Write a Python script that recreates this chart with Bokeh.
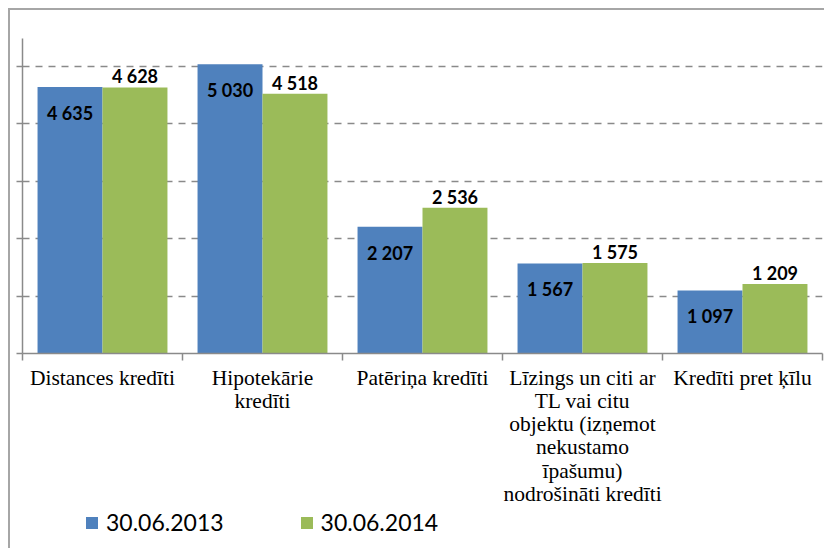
from bokeh.plotting import figure
from bokeh.layouts import column
from bokeh.models import ColumnDataSource, LabelSet, FixedTicker, Legend, LegendItem, Range1d
from bokeh.transform import dodge
from bokeh.embed import file_html
from bokeh.resources import INLINE
from bokeh.core.properties import value

# ---- data ----
categories = [
    "Distances kredīti",
    "Hipotekārie kredīti",
    "Patēriņa kredīti",
    "Līzings un citi ar TL vai citu objektu (izņemot nekustamo īpašumu) nodrošināti kredīti",
    "Kredīti pret ķīlu",
]
tick_labels = [
    "Distances kredīti",
    "Hipotekārie\nkredīti",
    "Patēriņa kredīti",
    "Līzings un citi ar\nTL vai citu\nobjektu (izņemot\nnekustamo\nīpašumu)\nnodrošināti kredīti",
    "Kredīti pret ķīlu",
]
series_names = ["30.06.2013", "30.06.2014"]
values_2013 = [4635, 5030, 2207, 1567, 1097]
values_2014 = [4628, 4518, 2536, 1575, 1209]

BLUE = "#4F81BD"
GREEN = "#9BBB59"
GRAY = "#8a8a8a"
SERIF = "'Liberation Serif'"


def fmt(v):
    return f"{v:,}".replace(",", " ")


centers = [i + 0.5 for i in range(len(categories))]
src = ColumnDataSource(dict(
    x=centers,
    cat=categories,
    v13=values_2013,
    v14=values_2014,
    t13=[fmt(v) for v in values_2013],
    t14=[fmt(v) for v in values_2014],
))

p = figure(
    width=814, height=498,
    x_range=Range1d(0, len(categories)),
    y_range=Range1d(0, 5480),
    output_backend="svg",
    toolbar_location=None,
    min_border_left=12, min_border_right=2, min_border_top=28, min_border_bottom=155,
)
p.outline_line_color = None
p.background_fill_color = "white"
p.border_fill_color = "white"

bw = 0.406
p.vbar(x=dodge("x", -bw / 2, range=p.x_range), top="v13", width=bw, source=src,
       fill_color=BLUE, line_color=None)
p.vbar(x=dodge("x", bw / 2, range=p.x_range), top="v14", width=bw, source=src,
       fill_color=GREEN, line_color=None)

lab_kw = dict(text_align="center", text_baseline="middle", text_font=value("Lato"),
              text_font_style="bold", text_font_size="18px", text_color="black")
p.add_layout(LabelSet(x=dodge("x", -bw / 2, range=p.x_range), y="v13", text="t13",
                      y_offset=-26, source=src, **lab_kw))
p.add_layout(LabelSet(x=dodge("x", bw / 2, range=p.x_range), y="v14", text="t14",
                      y_offset=11, source=src, **lab_kw))

# y axis: ticks only, no labels
p.yaxis.ticker = FixedTicker(ticks=[0, 1000, 2000, 3000, 4000, 5000])
p.yaxis.major_label_text_font_size = "0px"
p.yaxis.major_label_text_color = None
p.yaxis.major_label_standoff = 0
p.yaxis.major_tick_in = 0
p.yaxis.major_tick_out = 6
p.yaxis.minor_tick_line_color = None
p.yaxis.axis_line_color = GRAY
p.yaxis.axis_line_width = 1.5
p.yaxis.major_tick_line_color = GRAY
p.yaxis.major_tick_line_width = 1.5

# x axis: labels at centers, ticks at category boundaries
p.xaxis.ticker = FixedTicker(ticks=centers, minor_ticks=list(range(len(categories) + 1)))
p.xaxis.major_label_overrides = {c: t for c, t in zip(centers, tick_labels)}
p.xaxis.major_tick_line_color = None
p.xaxis.minor_tick_in = 0
p.xaxis.minor_tick_out = 7
p.xaxis.minor_tick_line_color = GRAY
p.xaxis.minor_tick_line_width = 1.5
p.xaxis.axis_line_color = GRAY
p.xaxis.axis_line_width = 1.5
p.xaxis.major_label_text_font = SERIF
p.xaxis.major_label_text_font_size = "21.5px"
p.xaxis.major_label_text_color = "black"
p.xaxis.major_label_text_line_height = 0.97
p.xaxis.major_label_standoff = 5

p.xgrid.grid_line_color = None
p.ygrid.ticker = FixedTicker(ticks=[1000, 2000, 3000, 4000, 5000])
p.ygrid.grid_line_color = GRAY
p.ygrid.grid_line_width = 1.5
p.ygrid.grid_line_dash = "7 6"

# ---- legend strip (separate small figure below the chart) ----
lg = figure(
    width=814, height=40,
    x_range=Range1d(0, 1), y_range=Range1d(0, 1),
    output_backend="svg", toolbar_location=None,
    x_axis_location=None, y_axis_location=None,
    min_border_left=0, min_border_right=0, min_border_top=0, min_border_bottom=0,
)
lg.outline_line_color = None
lg.background_fill_color = "white"
lg.border_fill_color = "white"
lg.xgrid.grid_line_color = None
lg.ygrid.grid_line_color = None
# proxy renderers placed outside the visible range, used only for the legend swatches
d1 = lg.vbar(x=[-10], top=[-10], bottom=[-11], width=1, fill_color=BLUE, line_color=None)
d2 = lg.vbar(x=[-10], top=[-10], bottom=[-11], width=1, fill_color=GREEN, line_color=None)
legend = Legend(
    items=[LegendItem(label=series_names[0], renderers=[d1]),
           LegendItem(label=series_names[1], renderers=[d2])],
    orientation="horizontal",
    location=(62, 12),
    glyph_width=15, glyph_height=15, label_height=15,
    label_standoff=7, spacing=75, padding=0, margin=0,
    border_line_color=None, background_fill_alpha=0,
    label_text_font="Lato", label_text_font_size="23px", label_text_color="black",
)
lg.add_layout(legend, "center")

layout = column(p, lg, spacing=0)
layout.styles = {"margin-left": "8px", "margin-top": "8px",
                 "border-top": "2px solid #a6a6a6", "border-left": "2px solid #a6a6a6"}

open("out.html", "w").write(file_html(layout, INLINE))
